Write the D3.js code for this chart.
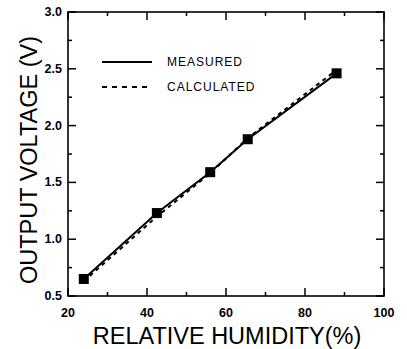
<!DOCTYPE html>
<html>
<head>
<meta charset="utf-8">
<script src="https://cdn.jsdelivr.net/npm/d3@7"></script>
<style>
  html, body { margin: 0; padding: 0; background: #fff; }
  svg { display: block; }
</style>
</head>
<body>
<div id="chart"></div>
<script>
var humidity = [24, 42.5, 56, 65.5, 88];
var measured = [0.65, 1.23, 1.59, 1.88, 2.46];
var calculated = [0.63, 1.2, 1.58, 1.89, 2.49];
var xTicks = [20, 40, 60, 80, 100];
var yTicks = [0.5, 1.0, 1.5, 2.0, 2.5, 3.0];
var seriesNames = ["MEASURED", "CALCULATED"];

var width = 407, height = 349;
var margin = {top: 12, right: 23, bottom: 53, left: 68};

var svg = d3.select("#chart").append("svg")
    .attr("width", width)
    .attr("height", height);

var x = d3.scaleLinear().domain([20, 100]).range([margin.left, width - margin.right]);
var y = d3.scaleLinear().domain([0.5, 3.0]).range([height - margin.bottom, margin.top]);

var font = "Liberation Sans, Arial, sans-serif";

// frame
svg.append("rect")
    .attr("x", x(20))
    .attr("y", y(3.0))
    .attr("width", x(100) - x(20))
    .attr("height", y(0.5) - y(3.0))
    .attr("fill", "none")
    .attr("stroke", "#000")
    .attr("stroke-width", 1.6);

// inward ticks on every side
var xMinor = d3.range(30, 100, 20);
var yMinor = d3.range(0.75, 3.0, 0.5);

function ticks(values, len, axis) {
  values.forEach(function(v) {
    if (axis === "x") {
      svg.append("line").attr("x1", x(v)).attr("x2", x(v))
        .attr("y1", y(0.5)).attr("y2", y(0.5) - len)
        .attr("stroke", "#000").attr("stroke-width", 1.5);
      svg.append("line").attr("x1", x(v)).attr("x2", x(v))
        .attr("y1", y(3.0)).attr("y2", y(3.0) + len)
        .attr("stroke", "#000").attr("stroke-width", 1.5);
    } else {
      svg.append("line").attr("x1", x(20)).attr("x2", x(20) + len)
        .attr("y1", y(v)).attr("y2", y(v))
        .attr("stroke", "#000").attr("stroke-width", 1.5);
      svg.append("line").attr("x1", x(100)).attr("x2", x(100) - len)
        .attr("y1", y(v)).attr("y2", y(v))
        .attr("stroke", "#000").attr("stroke-width", 1.5);
    }
  });
}
ticks(xTicks, 8, "x");
ticks(xMinor, 4, "x");
ticks(yTicks, 8, "y");
ticks(yMinor, 4, "y");

// tick labels
svg.selectAll(".xl").data(xTicks).enter().append("text")
    .attr("x", function(d) { return x(d); })
    .attr("y", y(0.5) + 21)
    .attr("text-anchor", "middle")
    .style("font-family", font)
    .style("font-weight", "bold")
    .style("font-size", "12.5px")
    .text(function(d) { return d; });

svg.selectAll(".yl").data(yTicks).enter().append("text")
    .attr("x", x(20) - 6)
    .attr("y", function(d) { return y(d) + 4; })
    .attr("text-anchor", "end")
    .style("font-family", font)
    .style("font-weight", "bold")
    .style("font-size", "12.5px")
    .text(function(d) { return d.toFixed(1); });

// axis titles
svg.append("text")
    .attr("x", (x(20) + x(100)) / 2 + 1)
    .attr("y", 344)
    .attr("text-anchor", "middle")
    .style("font-family", font)
    .style("font-size", "23.5px")
    .text("RELATIVE HUMIDITY(%)");

svg.append("text")
    .attr("transform", "translate(37," + ((y(0.5) + y(3.0)) / 2 + 6) + ") rotate(-90)")
    .attr("text-anchor", "middle")
    .style("font-family", font)
    .style("font-size", "23.5px")
    .text("OUTPUT VOLTAGE (V)");

// lines
var measPts = humidity.map(function(h, i) { return [h, measured[i]]; });
var calcPts = humidity.map(function(h, i) { return [h, calculated[i]]; });
var line = d3.line().x(function(d) { return x(d[0]); }).y(function(d) { return y(d[1]); });

svg.append("path")
    .attr("d", line(calcPts))
    .attr("fill", "none")
    .attr("stroke", "#000")
    .attr("stroke-width", 2)
    .attr("stroke-dasharray", "4,4");

svg.append("path")
    .attr("d", line(measPts))
    .attr("fill", "none")
    .attr("stroke", "#000")
    .attr("stroke-width", 2);

svg.selectAll(".pt").data(measPts).enter().append("rect")
    .attr("x", function(d) { return x(d[0]) - 5; })
    .attr("y", function(d) { return y(d[1]) - 5; })
    .attr("width", 10)
    .attr("height", 10)
    .attr("fill", "#000");

// legend
var legend = svg.append("g");
seriesNames.forEach(function(name, i) {
  var ly = 62 + i * 25;
  legend.append("line")
      .attr("x1", 102).attr("x2", 152)
      .attr("y1", ly).attr("y2", ly)
      .attr("stroke", "#000")
      .attr("stroke-width", 2)
      .attr("stroke-dasharray", i === 1 ? "5,5" : null);
  legend.append("text")
      .attr("x", 167)
      .attr("y", ly + 4)
      .style("font-family", font)
      .style("font-size", "12px")
      .style("letter-spacing", "1px")
      .text(name);
});
</script>
</body>
</html>
